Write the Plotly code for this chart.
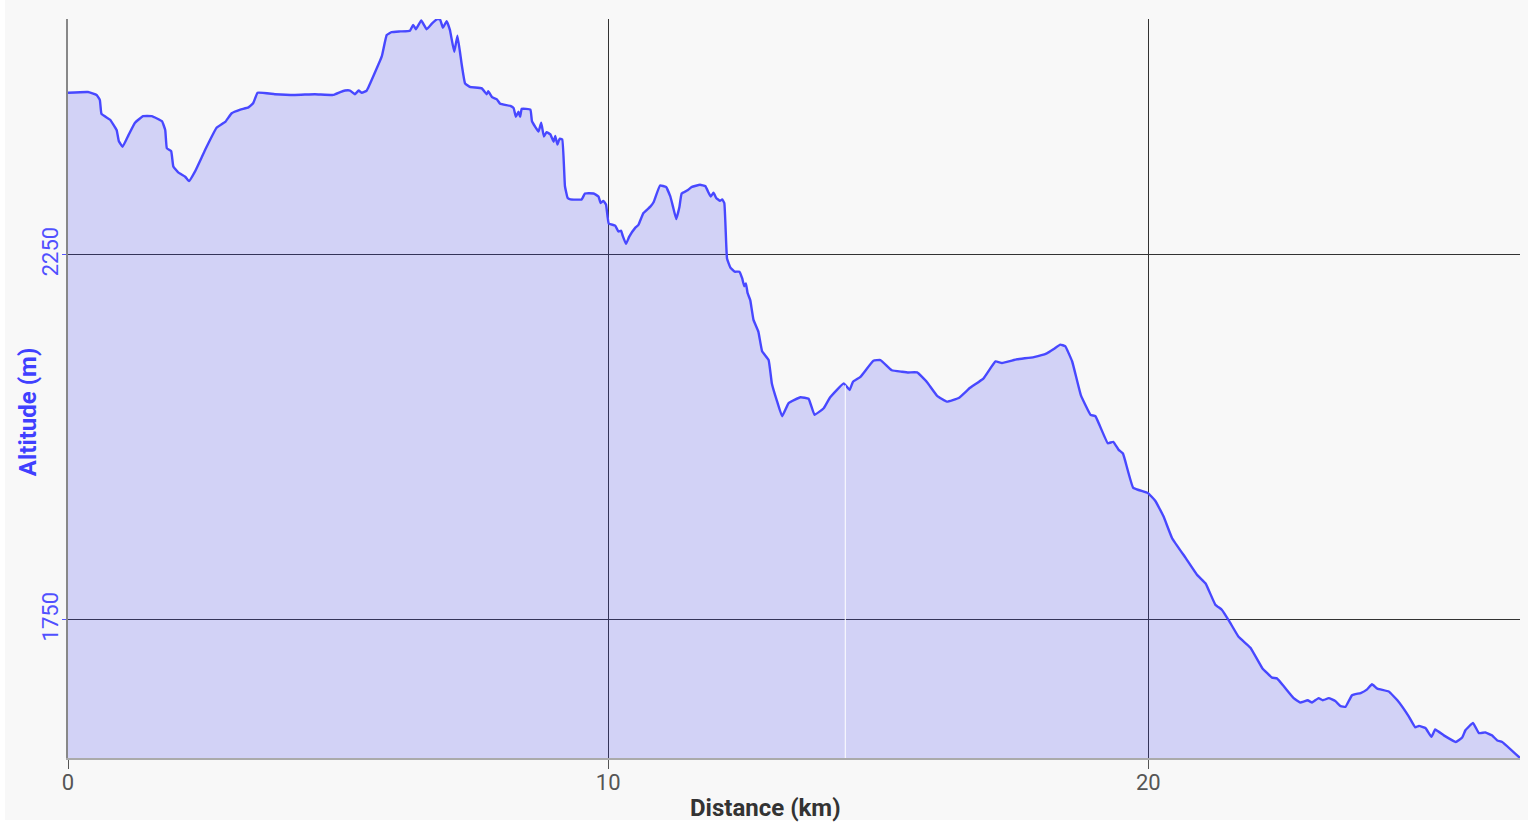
import plotly.graph_objects as go
import numpy as np

distance_km = [
    0.00, 0.37, 0.53, 0.59, 0.62, 0.78, 0.90, 0.94, 1.01, 1.12, 1.24, 1.39, 1.55, 1.74, 1.80, 1.83,
    1.91, 1.95, 2.04, 2.17, 2.24, 2.35, 2.54, 2.75, 2.91, 3.03, 3.19, 3.34, 3.43, 3.51, 3.83, 4.20,
    4.57, 4.91, 5.04, 5.13, 5.22, 5.31, 5.38, 5.44, 5.53, 5.69, 5.81, 5.90, 5.99, 6.15, 6.33, 6.39,
    6.44, 6.54, 6.64, 6.74, 6.84, 6.89, 6.94, 7.01, 7.07, 7.15, 7.21, 7.29, 7.35, 7.44, 7.66, 7.75,
    7.78, 7.85, 7.94, 8.00, 8.19, 8.25, 8.29, 8.34, 8.37, 8.40, 8.56, 8.59, 8.71, 8.76, 8.81, 8.86,
    8.93, 8.99, 9.02, 9.06, 9.10, 9.15, 9.20, 9.25, 9.30, 9.51, 9.57, 9.73, 9.82, 9.86, 9.91, 9.96,
    10.01, 10.13, 10.19, 10.24, 10.27, 10.33, 10.39, 10.50, 10.56, 10.65, 10.78, 10.84, 10.96, 11.07,
    11.15, 11.20, 11.26, 11.32, 11.36, 11.46, 11.55, 11.70, 11.80, 11.86, 11.90, 11.95, 12.00, 12.07,
    12.11, 12.15, 12.20, 12.26, 12.34, 12.43, 12.48, 12.52, 12.55, 12.58, 12.63, 12.69, 12.78, 12.85,
    12.97, 13.03, 13.12, 13.22, 13.34, 13.56, 13.71, 13.82, 13.99, 14.11, 14.36, 14.47, 14.53, 14.67,
    14.91, 15.04, 15.25, 15.44, 15.56, 15.72, 15.90, 16.09, 16.27, 16.49, 16.70, 16.95, 17.17, 17.29,
    17.57, 17.88, 18.12, 18.25, 18.37, 18.46, 18.59, 18.75, 18.93, 19.02, 19.25, 19.35, 19.45, 19.53,
    19.72, 19.99, 20.13, 20.28, 20.44, 20.69, 20.90, 21.06, 21.24, 21.36, 21.50, 21.67, 21.89, 22.11,
    22.29, 22.38, 22.51, 22.69, 22.81, 22.95, 23.03, 23.15, 23.23, 23.34, 23.46, 23.56, 23.65, 23.77,
    23.93, 24.05, 24.14, 24.24, 24.45, 24.61, 24.82, 24.94, 25.01, 25.13, 25.24, 25.31, 25.47, 25.69,
    25.81, 25.87, 26.01, 26.12, 26.24, 26.36, 26.46, 26.55, 26.88,
]

altitude_m = [
    2472, 2473, 2469, 2462, 2443, 2435, 2421, 2406, 2398, 2414, 2431, 2440, 2440, 2433, 2421, 2396,
    2392, 2371, 2363, 2357, 2351, 2364, 2394, 2424, 2432, 2444, 2449, 2452, 2458, 2472, 2470, 2469,
    2470, 2469, 2473, 2475, 2475, 2470, 2475, 2472, 2475, 2501, 2522, 2551, 2555, 2556, 2557, 2565,
    2559, 2571, 2559, 2567, 2573, 2572, 2561, 2570, 2558, 2528, 2550, 2510, 2485, 2480, 2478, 2470,
    2474, 2466, 2463, 2457, 2454, 2451, 2439, 2446, 2439, 2450, 2449, 2433, 2419, 2431, 2412, 2418,
    2415, 2405, 2413, 2401, 2409, 2408, 2344, 2328, 2326, 2326, 2334, 2334, 2330, 2321, 2324, 2319,
    2293, 2290, 2282, 2283, 2276, 2265, 2275, 2287, 2291, 2307, 2316, 2322, 2345, 2343,
    2330, 2316, 2299, 2316, 2334, 2338, 2343, 2346, 2344, 2335, 2330, 2335, 2328, 2324,
    2326, 2321, 2245, 2233, 2227, 2227, 2218, 2207, 2211, 2198, 2188, 2161, 2145, 2118,
    2106, 2074, 2051, 2029, 2047, 2055, 2053, 2031, 2040, 2055, 2074, 2065, 2076, 2083,
    2105, 2106, 2092, 2090, 2089, 2089, 2076, 2057, 2049, 2054, 2068, 2081, 2104, 2102,
    2107, 2110, 2115, 2121, 2127, 2125, 2104, 2058, 2031, 2029, 1992, 1994, 1983, 1978,
    1931, 1924, 1913, 1892, 1862, 1835, 1812, 1800, 1771, 1764, 1748, 1727, 1712, 1684,
    1671, 1670, 1659, 1643, 1637, 1640, 1637, 1643, 1640, 1643, 1639, 1632, 1631, 1647,
    1650, 1655, 1662, 1656, 1652, 1640, 1618, 1603, 1605, 1602, 1590, 1600, 1592, 1583,
    1589, 1599, 1609, 1595, 1596, 1592, 1585, 1583, 1561,
]

x_tickvals = [0, 10, 20]
y_tickvals = [1750, 2250]
cursor_km = 14.39

y_min = min(altitude_m)
y_max = max(altitude_m)
cursor_alt = float(np.interp(cursor_km, distance_km, altitude_m))

fig = go.Figure()
fig.add_trace(go.Scatter(
    x=distance_km, y=altitude_m, mode="lines",
    line=dict(color="rgb(72,72,255)", width=2.4, shape="spline", smoothing=0.3),
    fill="tozeroy", fillcolor="rgba(60,60,240,0.2)",
    hoverinfo="skip", showlegend=False,
))
fig.add_trace(go.Scatter(
    x=[cursor_km, cursor_km], y=[y_min, cursor_alt], mode="lines",
    line=dict(color="rgba(255,255,255,0.85)", width=1.2),
    hoverinfo="skip", showlegend=False,
))

fig.update_layout(
    width=1536, height=824,
    margin=dict(l=68, r=16, t=19, b=66),
    paper_bgcolor="white", plot_bgcolor="rgba(0,0,0,0)",
    font=dict(family="Roboto", size=22, color="#555555"),
    shapes=[dict(
        type="rect", xref="paper", yref="paper",
        x0=-0.0434, x1=1.0055, y0=-0.084, y1=1.03,
        fillcolor="#f8f8f8", line=dict(width=0), layer="below",
    )],
    annotations=[
        dict(text="<b>Distance (km)</b>", xref="paper", yref="paper",
             x=0.4807, y=-0.068, showarrow=False,
             font=dict(family="Roboto", size=24, color="#333333"),
             xanchor="center", yanchor="middle"),
        dict(text="<b>Altitude (m)</b>", xref="paper", yref="paper",
             x=-0.0275, y=0.468, showarrow=False, textangle=-90,
             font=dict(family="Roboto", size=24, color="#4040ff"),
             xanchor="center", yanchor="middle"),
    ],
)
fig.update_xaxes(
    range=[0, max(distance_km)], tickvals=x_tickvals,
    showgrid=True, gridcolor="#333333", gridwidth=1,
    showline=True, linecolor="#aaaaaa", linewidth=2,
    ticks="outside", ticklen=9, tickcolor="#555555", tickwidth=1,
    ticklabelstandoff=-5,
    zeroline=False, tickfont=dict(size=22, color="#555555"),
)
fig.update_yaxes(
    range=[y_min, y_max], tickvals=y_tickvals, tickangle=-90,
    showgrid=True, gridcolor="#333333", gridwidth=1,
    showline=True, linecolor="#888888", linewidth=2,
    ticks="outside", ticklen=4, tickcolor="#5555ff", tickwidth=1,
    ticklabelstandoff=-5,
    zeroline=False, tickfont=dict(size=22, color="#5050ff"),
)

fig.write_html(
    "out.html",
    config={"displayModeBar": False},
    post_script="document.body.style.margin='0';document.body.style.overflow='hidden';",
)
